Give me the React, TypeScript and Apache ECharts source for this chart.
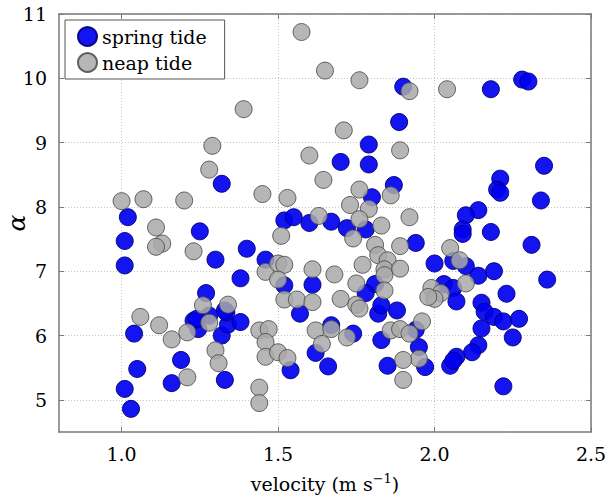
import React, { useEffect, useRef } from "react";
import * as echarts from "echarts";

const springX = [1.02, 1.01, 1.01, 1.04, 1.05, 1.01, 1.03, 1.16, 1.19, 1.25, 1.30, 1.32, 1.27, 1.23, 1.245, 1.28, 1.32, 1.34, 1.335, 1.38, 1.38, 1.40, 1.33, 1.46, 1.52, 1.57, 1.54, 1.61, 1.62, 1.52, 1.55, 1.60, 1.67, 1.72, 1.78, 1.70, 1.79, 1.79, 1.887, 1.87, 1.80, 1.90, 2.18, 2.28, 2.30, 2.35, 2.21, 2.20, 2.21, 2.34, 2.14, 2.10, 2.09, 2.09, 2.18, 1.94, 2.31, 2.00, 2.06, 2.10, 2.14, 2.19, 2.36, 2.03, 2.06, 2.23, 2.07, 2.15, 2.16, 2.19, 2.22, 2.27, 2.25, 2.15, 2.14, 2.12, 2.07, 2.05, 2.06, 2.22, 1.97, 1.95, 1.94, 1.88, 1.82, 1.83, 1.85, 1.81, 1.78, 1.83, 1.67, 1.74, 1.66, 1.24, 1.33];
const springY = [7.84, 7.47, 7.09, 6.03, 5.48, 5.17, 4.86, 5.26, 5.62, 7.62, 7.18, 8.36, 6.66, 6.23, 6.10, 6.31, 6.00, 6.17, 6.36, 6.21, 6.89, 7.35, 5.31, 7.18, 6.78, 6.34, 5.46, 6.79, 5.73, 7.79, 7.84, 7.75, 7.77, 7.67, 7.65, 8.70, 8.66, 8.97, 9.32, 8.34, 8.15, 9.87, 9.83, 9.98, 9.95, 8.64, 8.44, 8.27, 8.22, 8.10, 7.95, 7.87, 7.65, 7.58, 7.61, 7.44, 7.41, 7.12, 7.16, 7.08, 6.93, 7.00, 6.87, 6.80, 6.74, 6.65, 6.53, 6.51, 6.37, 6.29, 6.22, 6.26, 5.97, 6.11, 5.85, 5.74, 5.67, 5.53, 5.61, 5.21, 5.51, 5.82, 6.09, 6.39, 6.34, 5.93, 5.53, 6.80, 6.66, 6.47, 6.16, 6.03, 5.52, 6.26, 6.39];

const neapX = [1.00, 1.07, 1.20, 1.29, 1.28, 1.39, 1.45, 1.53, 1.575, 1.60, 1.51, 1.11, 1.13, 1.11, 1.23, 1.06, 1.12, 1.16, 1.21, 1.26, 1.28, 1.34, 1.30, 1.31, 1.21, 1.44, 1.44, 1.44, 1.47, 1.46, 1.46, 1.50, 1.53, 1.46, 1.50, 1.52, 1.50, 1.52, 1.56, 1.65, 1.76, 1.92, 2.04, 1.71, 1.89, 1.645, 1.76, 1.86, 1.73, 1.79, 1.63, 1.76, 1.83, 1.92, 1.74, 1.81, 1.89, 2.05, 1.61, 1.68, 1.77, 1.82, 1.85, 1.84, 1.84, 1.89, 1.75, 1.84, 1.70, 1.75, 1.76, 1.61, 1.62, 1.67, 1.64, 1.72, 1.86, 1.89, 1.92, 1.96, 1.95, 1.90, 1.90, 1.99, 2.02, 2.00, 2.08, 2.10, 1.98];
const neapY = [8.09, 8.12, 8.10, 8.95, 8.58, 9.52, 8.20, 8.14, 10.72, 8.80, 7.55, 7.68, 7.43, 7.38, 7.31, 6.29, 6.16, 5.94, 6.05, 6.47, 6.20, 6.48, 5.77, 5.57, 5.35, 5.19, 4.95, 6.08, 6.10, 5.90, 5.67, 5.74, 5.65, 6.99, 7.12, 7.10, 6.87, 6.56, 6.56, 10.12, 9.97, 9.80, 9.83, 9.19, 8.88, 8.42, 8.27, 8.18, 8.03, 7.97, 7.86, 7.81, 7.71, 7.84, 7.51, 7.41, 7.39, 7.36, 7.03, 6.95, 7.10, 7.25, 7.17, 7.03, 6.94, 7.04, 6.81, 6.70, 6.57, 6.48, 6.42, 6.52, 6.08, 6.10, 5.87, 5.97, 6.08, 6.10, 6.03, 6.22, 5.64, 5.62, 5.31, 6.74, 6.66, 6.57, 7.17, 6.81, 6.60];

const xTicks = [1.0, 1.5, 2.0, 2.5];
const yTicks = [5, 6, 7, 8, 9, 10, 11];

const FONT = "DejaVu Serif";

export default function App() {
  const ref = useRef<HTMLDivElement>(null);
  useEffect(() => {
    if (!ref.current) return;
    const chart = echarts.init(ref.current, undefined, { renderer: "svg" });
    const frame = { lineStyle: { color: "#7a7a7a", width: 1.5 } };
    const baseX = {
      type: "value" as const,
      min: 0.8,
      max: 2.5,
      axisLine: { show: true, onZero: false, ...frame },
      axisTick: { show: true, inside: true, length: 5, customValues: xTicks, lineStyle: { color: "#7a7a7a" } },
    };
    const baseY = {
      type: "value" as const,
      min: 4.5,
      max: 11,
      axisLine: { show: true, onZero: false, ...frame },
      axisTick: { show: true, inside: true, length: 5, customValues: yTicks, lineStyle: { color: "#7a7a7a" } },
    };
    chart.setOption({
      animation: false,
      backgroundColor: "#ffffff",
      textStyle: { fontFamily: FONT },
      grid: { left: 59, width: 532, top: 14, height: 418, containLabel: false, outerBoundsMode: "none" },
      legend: {
        orient: "vertical",
        left: 65,
        top: 20,
        backgroundColor: "#ffffff",
        borderColor: "#555555",
        borderWidth: 1,
        borderRadius: 0,
        padding: [6, 18, 6, 12],
        itemGap: 5,
        itemWidth: 19,
        itemHeight: 19,
        icon: "circle",
        textStyle: { fontFamily: FONT, fontSize: 19, color: "#000" },
        data: ["spring tide", "neap tide"],
      },
      xAxis: [
        {
          ...baseX,
          position: "bottom",
          name: "velocity (m s{sup|−1})",
          nameLocation: "middle",
          nameGap: 40,
          nameMoveOverlap: false,
          nameTextStyle: {
            fontFamily: FONT,
            fontSize: 19,
            color: "#000",
            rich: { sup: { fontFamily: FONT, fontSize: 13, color: "#000", verticalAlign: "top", padding: [0, 0, 10, 0] } },
          },
          axisLabel: {
            customValues: xTicks,
            formatter: (v: number) => v.toFixed(1),
            fontFamily: FONT,
            fontSize: 19,
            color: "#000",
            margin: 12,
          },
          splitLine: { show: true, lineStyle: { color: "#c4c4c4", type: [1, 2], width: 1 } },
        },
        {
          ...baseX,
          position: "top",
          axisLabel: { show: false },
          splitLine: { show: false },
        },
      ],
      yAxis: [
        {
          ...baseY,
          position: "left",
          name: "α",
          nameLocation: "middle",
          nameRotate: 90,
          nameGap: 30,
          nameMoveOverlap: false,
          nameTextStyle: { fontFamily: FONT, fontStyle: "italic", fontSize: 25, color: "#000" },
          axisLabel: {
            customValues: yTicks,
            fontFamily: FONT,
            fontSize: 19,
            color: "#000",
            margin: 12,
          },
          splitLine: { show: true, lineStyle: { color: "#c4c4c4", type: [1, 2], width: 1 } },
        },
        {
          ...baseY,
          position: "right",
          axisLabel: { show: false },
          splitLine: { show: false },
        },
      ],
      series: [
        {
          name: "spring tide",
          type: "scatter",
          symbol: "circle",
          symbolSize: 17,
          data: springX.map((x, i) => [x, springY[i]]),
          itemStyle: { color: "#0000f0", borderColor: "#00007a", borderWidth: 1, opacity: 0.92 },
          emphasis: { disabled: true },
        },
        {
          name: "neap tide",
          type: "scatter",
          symbol: "circle",
          symbolSize: 17,
          data: neapX.map((x, i) => [x, neapY[i]]),
          itemStyle: { color: "#a9a9a9", borderColor: "#4a4a4a", borderWidth: 1, opacity: 0.85 },
          emphasis: { disabled: true },
        },
      ],
    });
    return () => chart.dispose();
  }, []);
  return <div ref={ref} style={{ width: 607, height: 497, position: "absolute", left: 0, top: 0 }} />;
}
